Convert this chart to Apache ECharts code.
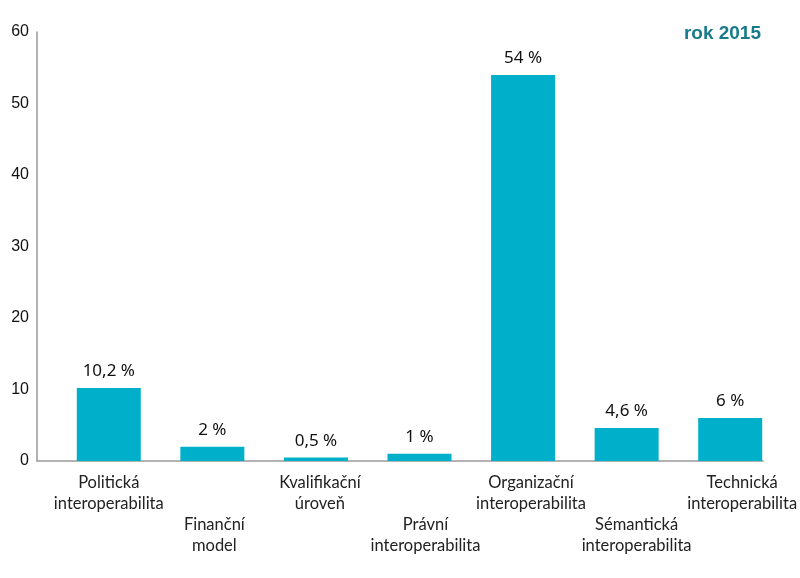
<!DOCTYPE html>
<html>
<head>
<meta charset="utf-8">
<script src="https://cdn.jsdelivr.net/npm/echarts@6/dist/echarts.min.js"></script>
<style>html,body{margin:0;padding:0;background:#fff}#c{width:800px;height:578px}</style>
</head>
<body>
<div id="c"></div>
<script>
const categories = [
  'Politická\ninteroperabilita',
  'Finanční\nmodel',
  'Kvalifikační\núroveň',
  'Právní\ninteroperabilita',
  'Organizační\ninteroperabilita',
  'Sémantická\ninteroperabilita',
  'Technická\ninteroperabilita'
];
const values = [10.2, 2, 0.5, 1, 54, 4.6, 6];
const valueLabels = ['10,2 %', '2 %', '0,5 %', '1 %', '54 %', '4,6 %', '6 %'];
const yTicks = [0, 10, 20, 30, 40, 50, 60];
const titleText = 'rok 2015';

const chart = echarts.init(document.getElementById('c'));
chart.setOption({
  animation: false,
  backgroundColor: '#fff',
  title: {
    text: titleText, right: 34, top: 19,
    textStyle: {fontFamily: 'Liberation Sans', fontSize: 19, fontWeight: 'bold', color: '#177b8c'}
  },
  grid: [
    {left: 37, right: 37, top: 32, bottom: 117},
    {left: 57, right: 18, top: 32, bottom: 117},
    {left: 56, right: 4, top: 32, bottom: 117}
  ],
  xAxis: [
    {type: 'category', gridIndex: 0, data: categories,
     axisLine: {show: true, lineStyle: {color: '#999', width: 1.5}},
     axisTick: {show: false}, axisLabel: {show: false}, splitLine: {show: false}},
    {type: 'category', gridIndex: 1, data: categories,
     axisLine: {show: false}, axisTick: {show: false}, axisLabel: {show: false}},
    {type: 'category', gridIndex: 2, data: categories,
     axisLine: {show: false}, axisTick: {show: false},
     axisLabel: {
       interval: 0, margin: 11, lineHeight: 21,
       fontFamily: 'Lato', fontSize: 16.5, color: '#222',
       formatter: (v, i) => (i % 2 === 1 ? '\n\n' + v : v)
     }}
  ],
  yAxis: [
    {type: 'value', gridIndex: 0, min: yTicks[0], max: yTicks[yTicks.length - 1], interval: 10,
     axisLine: {show: true, lineStyle: {color: '#999', width: 1.5}},
     axisTick: {show: false}, splitLine: {show: false},
     axisLabel: {margin: 8, fontFamily: 'Liberation Sans', fontSize: 16, color: '#111', padding: [0, 0, 6, 0]}},
    {type: 'value', gridIndex: 1, min: 0, max: 60, show: false, splitLine: {show: false}},
    {type: 'value', gridIndex: 2, min: 0, max: 60, show: false, splitLine: {show: false}}
  ],
  series: [{
    type: 'bar', xAxisIndex: 1, yAxisIndex: 1,
    data: values, barWidth: 64,
    itemStyle: {color: '#00afca'},
    label: {
      show: true, position: 'top', distance: 8,
      fontFamily: 'Noto Sans', fontSize: 17, color: '#111',
      formatter: p => valueLabels[p.dataIndex]
    }
  }]
});
</script>
</body>
</html>
